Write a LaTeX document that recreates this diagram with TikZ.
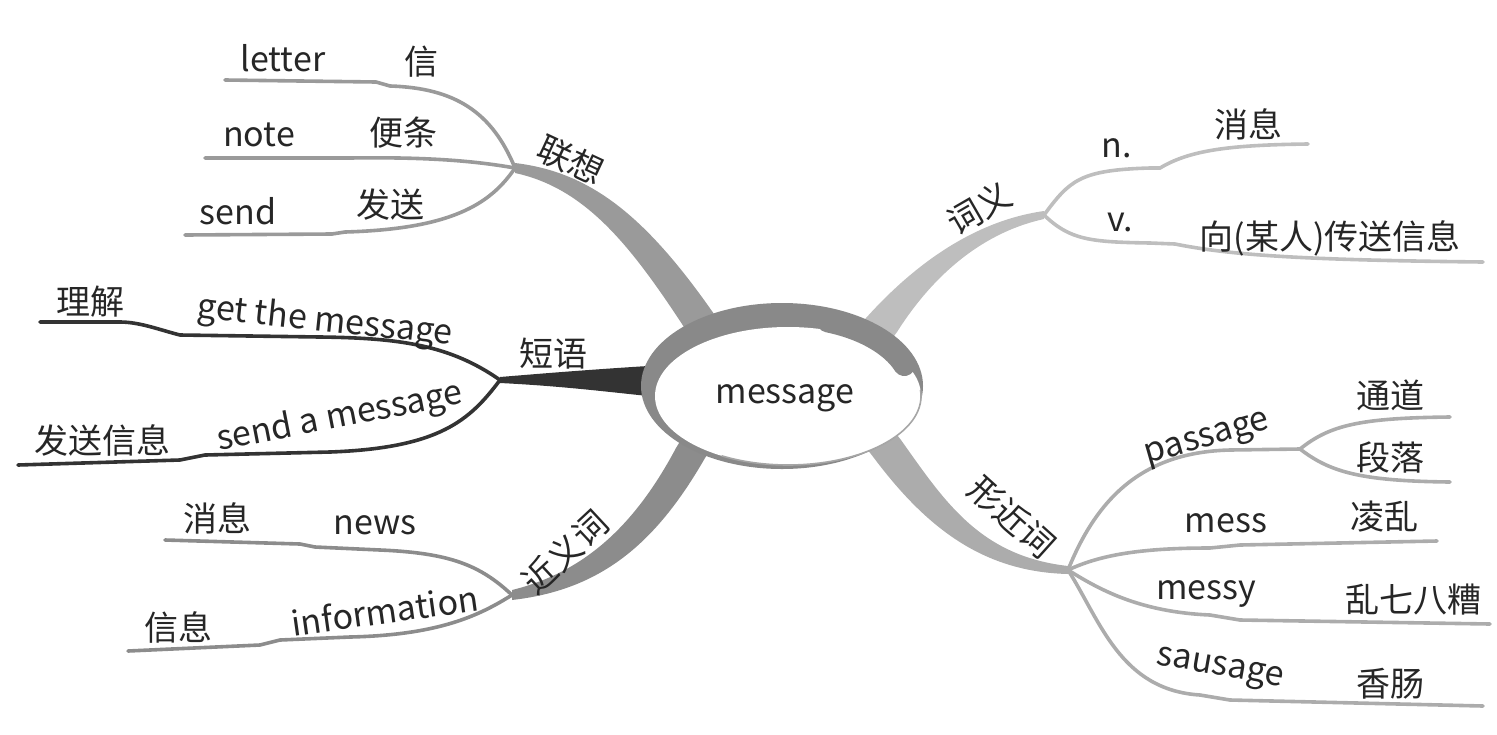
\documentclass[tikz,border=0pt]{standalone}
\usepackage{fontspec}
\setmainfont{Noto Sans CJK SC}
\definecolor{cLian}{HTML}{9A9A9A}
\definecolor{cPhr}{HTML}{333333}
\definecolor{cSyn}{HTML}{8C8C8C}
\definecolor{cMean}{HTML}{BEBEBE}
\definecolor{cForm}{HTML}{ACACAC}
\definecolor{cRing}{HTML}{898989}

\begin{document}
\begin{tikzpicture}[x=0.5pt,y=-0.5pt,
  twig/.style={line width=1.8pt,line cap=round},
  word/.style={inner sep=0pt,text=black!85,font=\fontsize{17}{20}\selectfont}]
  \useasboundingbox (0,0) rectangle (1497,734);

  % hubs
  \coordinate (hubLian) at (515,168);
  \coordinate (hubPhr) at (500,380);
  \coordinate (hubSyn) at (512,595);
  \coordinate (hubMean) at (1044,215);
  \coordinate (hubForm) at (1068,570);
  \coordinate (hubPass) at (1300,449);

  % free ends of the twigs
  \coordinate (eLetter) at (225,80);
  \coordinate (eNote) at (205,158);
  \coordinate (eSend) at (185,235);
  \coordinate (eGet) at (40,322);
  \coordinate (eSendA) at (18,465);
  \coordinate (eNews) at (165,540);
  \coordinate (eInfo) at (128,651);
  \coordinate (eN) at (1308,144);
  \coordinate (eV) at (1483,262);
  \coordinate (eTong) at (1450,417);
  \coordinate (eDuan) at (1450,482);
  \coordinate (eMess) at (1437,541);
  \coordinate (eMessy) at (1490,624);
  \coordinate (eSaus) at (1483,706);

  % thick main branches
  \fill[cLian] (515,163) .. controls (590,172) and (645,215) .. (714,314) -- (730,340)
    -- (695,345) -- (682,324) .. controls (630,245) and (585,188) .. (515,173) -- cycle;
  \fill[cPhr] (hubPhr) -- (500,377) .. controls (560,372) and (600,369) .. (648,366)
    -- (670,366) -- (670,396) -- (648,396) .. controls (600,391) and (560,386) .. (500,383) -- cycle;
  \fill[cSyn] (512,590) .. controls (585,572) and (635,525) .. (676,448) -- (690,425)
    -- (720,435) -- (705,458) .. controls (655,545) and (600,590) .. (512,600) -- cycle;
  \fill[cMean] (866,318) .. controls (920,258) and (980,220) .. (1044,211)
    -- (1044,219) .. controls (985,232) and (935,272) .. (897,332) -- (880,355) -- (848,340) -- cycle;
  \fill[cForm] (901,440) .. controls (945,502) and (980,556) .. (1068,566)
    -- (1068,574) .. controls (985,572) and (928,530) .. (874,458) -- (860,440) -- (885,420) -- cycle;

  % centre
  \fill[cRing] (782,386) ellipse (141 and 83);
  \fill[white] (788,396) ellipse (133 and 69);
  \draw[black!35,line width=0.8pt] ([shift={(788,396)}]-5:133 and 69)
    arc[start angle=-5,end angle=120,x radius=133,y radius=69];
  \draw[cRing,line width=11pt,line cap=round] ([shift={(784,390)}]-70:128 and 73)
    arc[start angle=-70,end angle=-20,x radius=128,y radius=73];
  \node[word] (centre) at (785,398) {message};

  % twigs
  \draw[twig,cLian] (hubLian) .. controls (492,112) and (455,88) .. (390,86) -- (376,82) -- (eLetter);
  \draw[twig,cLian] (hubLian) .. controls (470,160) and (420,157) .. (350,158) -- (eNote);
  \draw[twig,cLian] (hubLian) .. controls (490,205) and (450,229) .. (345,232) -- (332,234) -- (eSend);
  \draw[twig,cPhr] (hubPhr) .. controls (450,345) and (400,338) .. (320,337) -- (180,335)
    .. controls (160,330) and (140,322) .. (120,322) -- (eGet);
  \draw[twig,cPhr] (hubPhr) .. controls (470,420) and (440,448) .. (330,452) -- (205,455)
    -- (180,460) -- (eSendA);
  \draw[twig,cSyn] (hubSyn) .. controls (480,565) and (450,553) .. (380,550) -- (315,547)
    -- (300,544) -- (eNews);
  \draw[twig,cSyn] (hubSyn) .. controls (480,615) and (440,635) .. (350,637) -- (280,640)
    -- (260,645) -- (eInfo);
  \draw[twig,cMean] (hubMean) .. controls (1070,180) and (1080,170) .. (1150,168) -- (1160,168)
    .. controls (1190,150) and (1230,145) .. (eN);
  \draw[twig,cMean] (hubMean) .. controls (1070,240) and (1090,242) .. (1150,243) -- (1175,244)
    .. controls (1230,255) and (1300,260) .. (eV);
  \draw[twig,cForm] (hubForm) .. controls (1100,490) and (1150,452) .. (1230,450) -- (hubPass);
  \draw[twig,cForm] (hubPass) .. controls (1330,425) and (1360,418) .. (eTong);
  \draw[twig,cForm] (hubPass) .. controls (1330,472) and (1360,481) .. (eDuan);
  \draw[twig,cForm] (hubForm) .. controls (1100,555) and (1140,548) .. (1210,548) -- (1240,545) -- (eMess);
  \draw[twig,cForm] (hubForm) .. controls (1100,590) and (1140,612) .. (1210,615) -- (1240,620) -- (eMessy);
  \draw[twig,cForm] (hubForm) .. controls (1100,620) and (1120,690) .. (1200,695) -- (1230,700) -- (eSaus);

  % labels
  \node[word,rotate=-25] (lian) at (571,160) {联想};
  \node[word] (letter) at (283,58) {letter};
  \node[word] (xin) at (421,62) {信};
  \node[word] (note) at (259,135) {note};
  \node[word] (biantiao) at (403,133) {便条};
  \node[word] (send) at (238,211) {send};
  \node[word] (fasong) at (390,205) {发送};

  \node[word] (phr) at (553,354) {短语};
  \node[word,rotate=-6] (getmsg) at (325,322) {get the message};
  \node[word] (lijie) at (90,302) {理解};
  \node[word,rotate=11] (sendmsg) at (340,418) {send a message};
  \node[word] (fsxx) at (102,440) {发送信息};

  \node[word,rotate=43] (syn) at (565,552) {近义词};
  \node[word] (news) at (375,525) {news};
  \node[word] (xiaoxiA) at (217,518) {消息};
  \node[word,rotate=8] (info) at (385,610) {information};
  \node[word] (xinxi) at (178,627) {信息};

  \node[word,rotate=30] (mean) at (979,208) {词义};
  \node[word] (nn) at (1117,148) {n.};
  \node[word] (xiaoxiB) at (1248,124) {消息};
  \node[word] (vv) at (1120,222) {v.};
  \node[word] (xiang) at (1330,238) {向(某人)传送信息};

  \node[word,rotate=-42] (form) at (1012,517) {形近词};
  \node[word,rotate=16] (passage) at (1208,441) {passage};
  \node[word] (tongdao) at (1390,395) {通道};
  \node[word] (duanluo) at (1390,458) {段落};
  \node[word] (mess) at (1226,523) {mess};
  \node[word] (lingluan) at (1384,517) {凌乱};
  \node[word] (messy) at (1206,594) {messy};
  \node[word] (luan) at (1413,600) {乱七八糟};
  \node[word,rotate=-10] (sausage) at (1220,670) {sausage};
  \node[word] (xiangchang) at (1390,684) {香肠};
\end{tikzpicture}
\end{document}
